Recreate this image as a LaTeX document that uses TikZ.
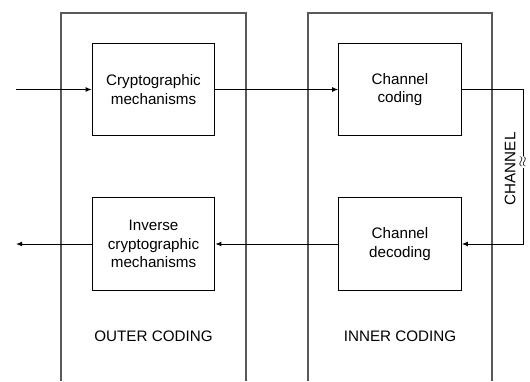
\documentclass[tikz,border=0pt]{standalone}
\usepackage{fontspec}
\setmainfont{Liberation Sans}
\usetikzlibrary{positioning,arrows.meta}

\tikzset{
  block/.style={draw,line width=0.75pt,minimum width=92pt,minimum height=69.5pt,align=center,inner sep=0pt},
  panel/.style={draw=black!65,line width=0.8pt},
  conn/.style={line width=0.75pt,-{Latex[length=1.6mm,width=1.3mm]}},
  wave/.style={rotate=90,fill=white,inner sep=0.4pt,font=\fontsize{11}{11}\selectfont}
}

\begin{document}
\begin{tikzpicture}[x=0.75pt,y=-0.75pt,font=\fontsize{11.4}{13.9}\selectfont]
\useasboundingbox (0,0) rectangle (530,381);
% outer and inner panels (open at the bottom)
\draw[panel] (61,381) -- (61,13) -- (246,13) -- (246,381);
\draw[panel] (308,381) -- (308,13) -- (492,13) -- (492,381);
% blocks
\node[block] (crypt) at (153.5,89.5) {Cryptographic\\mechanisms};
\node[block] (icrypt) at (153.5,244) {Inverse\\cryptographic\\mechanisms};
\node[block] (chcod) at (400,89.5) {Channel\\coding};
\node[block] (chdec) at (400,244) {Channel\\decoding};
% panel labels
\node (outer) at (153.5,336) {OUTER CODING};
\node (inner) at (400,336) {INNER CODING};
% connectors
\coordinate (src) at (16,89.5);
\coordinate (snk) at (16,244);
\coordinate (chtop) at (523,89.5);
\coordinate (chbot) at (523,244);
\draw[conn] (src) -- (crypt.west);
\draw[conn] (crypt.east) -- (chcod.west);
\draw[conn] (chcod.east) -- (chtop) -- node[wave,pos=0.47] (noise) {$\approx$} (chbot) -- (chdec.east);
\draw[conn] (chdec.west) -- (icrypt.east);
\draw[conn] (icrypt.west) -- (snk);
\node[rotate=90,left=-1pt of noise,anchor=south,yshift=3pt] (chan) {CHANNEL};
\end{tikzpicture}
\end{document}
